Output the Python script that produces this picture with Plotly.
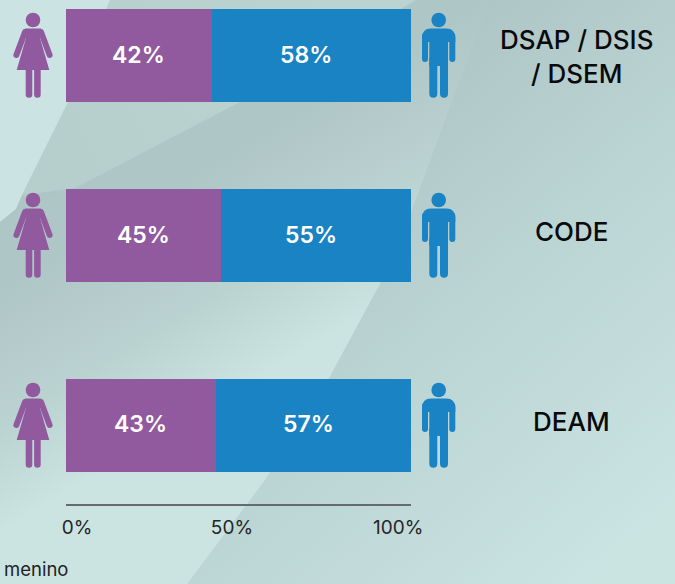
import base64
import plotly.graph_objects as go

# ---- data ----
departments = ["DSAP / DSIS<br>/ DSEM", "CODE", "DEAM"]
female_pct = [42.3, 44.9, 43.4]
male_pct = [57.7, 55.1, 56.6]
tick_labels = ["0%", "50%", "100%"]

# ---- page geometry (pixels) ----
W, H = 675, 584
L, T, PW, PH = 66, 0, 345, 504
row_centers = [55.5, 235.5, 425.5]
bar_height = 93
PURPLE, BLUE = "#915a9f", "#1a83c4"
FONT = "Inter"


def svg_uri(svg):
    return "data:image/svg+xml;base64," + base64.b64encode(svg.encode()).decode()


def px(x):
    return (x - L) / PW


def py(y):
    return 1 - (y - T) / PH


BACKGROUND = f"""<svg xmlns='http://www.w3.org/2000/svg' width='{W}' height='{H}' viewBox='0 0 {W} {H}'>
<defs>
<linearGradient id='r' gradientUnits='userSpaceOnUse' x1='300' y1='150' x2='640' y2='540'>
<stop offset='0' stop-color='#aec5c5'/><stop offset='.45' stop-color='#bbd4d4'/><stop offset='1' stop-color='#cae4e2'/></linearGradient>
<linearGradient id='l' gradientUnits='userSpaceOnUse' x1='100' y1='230' x2='250' y2='480'>
<stop offset='0' stop-color='#afc6c6'/><stop offset='.4' stop-color='#bad2d0'/><stop offset='.72' stop-color='#cbe4e2'/><stop offset='1' stop-color='#cbe4e2'/></linearGradient>
<linearGradient id='m' gradientUnits='userSpaceOnUse' x1='60' y1='180' x2='380' y2='40'>
<stop offset='0' stop-color='#b6cfcd'/><stop offset='1' stop-color='#bbd4d1'/></linearGradient>
</defs>
<rect width='{W}' height='{H}' fill='url(#r)'/>
<polygon points='0,222 240,102 416,0 490,0 445,120 412,210 382,280 328,380 265,480 187,584 0,584' fill='url(#l)'/>
<polygon points='110,0 416,0 240,102 75,188 22,195 68,102' fill='url(#m)'/>
<polygon points='0,0 110,0 68,102 22,195 16,209 0,222' fill='#cbe3e2'/>
</svg>"""

WOMAN = f"""<svg xmlns='http://www.w3.org/2000/svg' width='50' height='100' viewBox='10 5 50 100'>
<g fill='{PURPLE}' stroke='none'>
<circle cx='33' cy='20' r='7.3'/>
<polygon points='25,28.4 41,28.4 42,37 40,38 49.3,70 16.7,70 26,38 24,37'/>
</g>
<g stroke='{PURPLE}' stroke-linecap='round' fill='none'>
<line x1='25' y1='32' x2='16.4' y2='55' stroke-width='6'/>
<line x1='41' y1='32' x2='49.6' y2='55' stroke-width='6'/>
<line x1='29' y1='70' x2='29' y2='94.5' stroke-width='6.6'/>
<line x1='37.4' y1='70' x2='37.4' y2='94.5' stroke-width='6.6'/>
</g></svg>"""

MAN = f"""<svg xmlns='http://www.w3.org/2000/svg' width='50' height='100' viewBox='414 5 50 100'>
<g fill='{BLUE}' stroke='none'>
<circle cx='438.7' cy='20' r='7.3'/>
<path d='M422 38 Q422 28.4 431 28.4 H446.3 Q455.3 28.4 455.3 38 V42 H422 Z'/>
<rect x='429.3' y='30' width='18.7' height='36'/>
</g>
<g stroke='{BLUE}' stroke-linecap='round' fill='none'>
<line x1='425' y1='36' x2='425' y2='59' stroke-width='6'/>
<line x1='452.3' y1='36' x2='452.3' y2='59' stroke-width='6'/>
<line x1='433.3' y1='60' x2='433.3' y2='93.7' stroke-width='8'/>
<line x1='444' y1='60' x2='444' y2='93.7' stroke-width='8'/>
</g></svg>"""

images = [dict(source=svg_uri(BACKGROUND), xref="paper", yref="paper", x=px(0), y=py(0),
               sizex=W / PW, sizey=H / PH, sizing="stretch", xanchor="left", yanchor="top", layer="below")]
for c in row_centers:
    dy = c - row_centers[0]
    images.append(dict(source=svg_uri(WOMAN), xref="paper", yref="paper", x=px(10), y=py(5 + dy),
                       sizex=50 / PW, sizey=100 / PH, sizing="stretch", xanchor="left", yanchor="top", layer="above"))
    images.append(dict(source=svg_uri(MAN), xref="paper", yref="paper", x=px(414), y=py(5 + dy),
                       sizex=50 / PW, sizey=100 / PH, sizing="stretch", xanchor="left", yanchor="top", layer="above"))

fig = go.Figure()
fig.add_bar(y=row_centers, x=female_pct, orientation="h", width=bar_height, name="Feminino",
            marker=dict(color=PURPLE, line_width=0), hoverinfo="skip")
fig.add_bar(y=row_centers, x=male_pct, orientation="h", width=bar_height, name="Masculino",
            marker=dict(color=BLUE, line_width=0), hoverinfo="skip")

label_font = dict(family=FONT, size=23, color="white", weight=600)
annotations = []
for c, f, m, dy in zip(row_centers, female_pct, male_pct, [-1, -1, -2]):
    annotations.append(dict(text=f"{round(f)}%", x=f / 2, xref="x", y=c, yref="y", yshift=-dy, showarrow=False,
                            xanchor="center", yanchor="middle", font=label_font))
    annotations.append(dict(text=f"{round(m)}%", x=f + m / 2, xref="x", y=c, yref="y", xshift=-5, yshift=-dy,
                            showarrow=False, xanchor="center", yanchor="middle", font=label_font))

label_x = [576, 571, 571]
label_y = [56, 231, 421]
for name, x, y in zip(departments, label_x, label_y):
    annotations.append(dict(text=name, x=px(x), xref="paper", y=y, yref="y", showarrow=False,
                            xanchor="center", yanchor="middle", align="center",
                            font=dict(family=FONT, size=26, color="#0a0a0a", weight=500)))
annotations.append(dict(text="menino", x=px(70), xref="paper", y=py(569), yref="paper", showarrow=False,
                        xanchor="right", yanchor="middle", font=dict(family=FONT, size=18.5, color="#222222")))

fig.update_layout(
    width=W, height=H, autosize=False, barmode="stack", showlegend=False,
    margin=dict(l=L, r=W - L - PW, t=T, b=H - T - PH, pad=0),
    paper_bgcolor="rgba(0,0,0,0)", plot_bgcolor="rgba(0,0,0,0)",
    images=images, annotations=annotations,
    xaxis=dict(range=[0, 100], tickmode="array", tickvals=[3.2, 48.1, 96.3], ticktext=tick_labels,
               showgrid=False, zeroline=False, showline=True, linecolor="#666b6a", linewidth=1.5,
               ticks="outside", ticklen=5, tickcolor="rgba(0,0,0,0)",
               tickfont=dict(family=FONT, size=19, color="#262626")),
    yaxis=dict(range=[PH, 0], visible=False),
)
fig.write_html("out.html", config={"displayModeBar": False},
               post_script="document.body.style.margin='0';document.body.style.overflow='hidden';")
